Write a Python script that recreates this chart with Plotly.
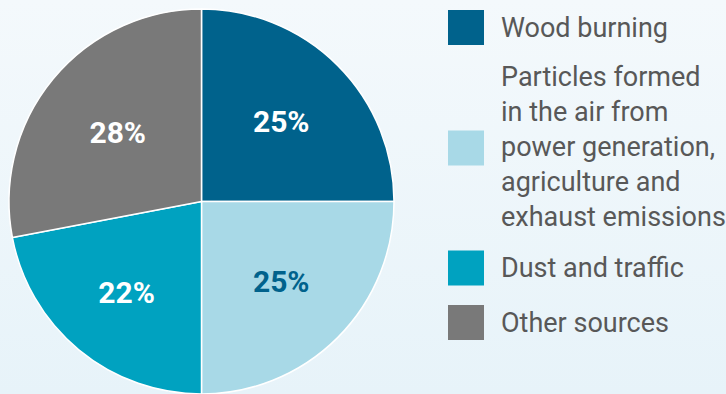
import plotly.graph_objects as go

labels = ["Wood burning",
          "Particles formed<br>in the air from<br>power generation,<br>agriculture and<br>exhaust emissions",
          "Dust and traffic",
          "Other sources"]
values = [25, 25, 22, 28]
colors = ["#00628c", "#a8d9e7", "#00a2c0", "#797979"]
text_colors = ["#ffffff", "#00628c", "#ffffff", "#ffffff"]

W, H = 726, 394
FONT = "Roboto"

fig = go.Figure()
fig.add_trace(go.Pie(
    labels=labels, values=values, sort=False, direction="clockwise", rotation=0,
    marker=dict(colors=colors, line=dict(color="#ffffff", width=1.5)),
    texttemplate="%{value}%", textposition="inside", insidetextorientation="horizontal",
    insidetextfont=dict(family=FONT, size=30, color=text_colors, weight="bold"),
    domain=dict(x=[8 / W, 395 / W], y=[0, 1 - 9 / H]),
    showlegend=False, hoverinfo="label+percent",
))

# background gradient
svg = ("data:image/svg+xml;utf8,<svg xmlns='http://www.w3.org/2000/svg' width='726' height='394'>"
       "<defs><linearGradient id='g' x1='0' y1='0' x2='0' y2='1'>"
       "<stop offset='0' stop-color='%23f4f9fc'/><stop offset='1' stop-color='%23e7f3f9'/>"
       "</linearGradient></defs><rect width='726' height='394' fill='url(%23g)'/></svg>")
images = [dict(source=svg, xref="paper", yref="paper", x=0, y=1, sizex=1, sizey=1,
               xanchor="left", yanchor="top", sizing="stretch", layer="below")]

# manual legend
sq_centers = [27.5, 148, 268, 322.5]
text_centers = [28, 147, 268, 323]
shapes, annotations = [], []
for lab, col, yc, yt in zip(labels, colors, sq_centers, text_centers):
    shapes.append(dict(type="rect", xref="paper", yref="paper",
                       x0=448 / W, x1=484 / W, y0=1 - (yc + 17.5) / H, y1=1 - (yc - 17.5) / H,
                       fillcolor=col, line=dict(width=0)))
    annotations.append(dict(text=lab, xref="paper", yref="paper", x=499 / W, y=1 - yt / H,
                            xanchor="left", yanchor="middle", align="left", showarrow=False,
                            font=dict(family=FONT, size=27, color="#585858")))

fig.update_layout(width=W, height=H, margin=dict(l=0, r=0, t=0, b=0),
                  paper_bgcolor="#f0f7fb", plot_bgcolor="rgba(0,0,0,0)",
                  images=images, shapes=shapes, annotations=annotations)
fig.write_html("out.html", config={"displayModeBar": False},
               post_script="document.body.style.margin='0';document.body.style.overflow='hidden';")
